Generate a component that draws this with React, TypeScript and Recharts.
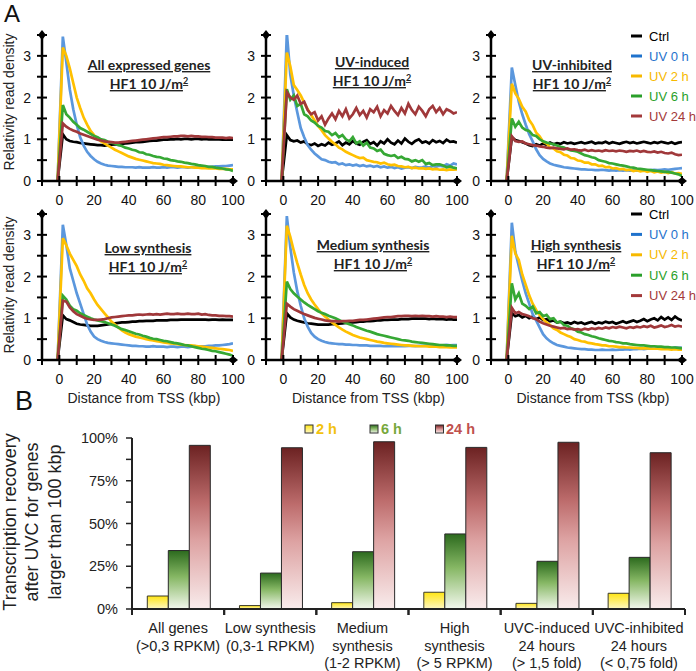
import React from 'react';
import { LineChart, Line, XAxis, YAxis, Legend, BarChart, Bar } from 'recharts';

const SANS = '"Liberation Sans", Arial, Helvetica, sans-serif';
const TITLE_FONT = 'Lato, "Open Sans", sans-serif';

// ---------- Panel A data (distance from TSS, kbp) ----------
const DIST = [-1, 2, 4, 6, 8, 10, 12, 14, 16, 18, 20, 22, 24, 26, 28, 30, 32, 34, 36, 38, 40, 42, 44, 46, 48, 50, 52, 54, 56, 58, 60, 62, 64, 66, 68, 70, 72, 74, 76, 78, 80, 82, 84, 86, 88, 90, 92, 94, 96, 98, 100];

const ALL_CTRL = [0, 1.12, 1.0, 0.96, 0.94, 0.93, 0.91, 0.9, 0.89, 0.88, 0.87,
  0.86, 0.86, 0.85, 0.86, 0.87, 0.88, 0.88, 0.89, 0.9, 0.91,
  0.92, 0.93, 0.93, 0.94, 0.95, 0.96, 0.97, 0.97, 0.98, 0.99,
  0.99, 1.0, 1.0, 1.01, 1.0, 1.01, 1.01, 1.0, 1.01, 1.01,
  1.0, 1.01, 1.0, 1.0, 1.0, 1.0, 0.99, 1.0, 0.99, 0.99];
const ALL_UV0 = [0, 3.46, 2.85, 2.2, 1.72, 1.35, 1.05, 0.85, 0.7, 0.6, 0.52,
  0.46, 0.42, 0.39, 0.37, 0.36, 0.35, 0.34, 0.34, 0.33, 0.33,
  0.33, 0.32, 0.33, 0.32, 0.32, 0.32, 0.33, 0.32, 0.32, 0.33,
  0.32, 0.33, 0.33, 0.32, 0.33, 0.33, 0.32, 0.33, 0.33, 0.33,
  0.34, 0.33, 0.34, 0.34, 0.35, 0.35, 0.36, 0.36, 0.37, 0.38];
const ALL_UV2 = [0, 3.2, 3.0, 2.7, 2.35, 2.0, 1.75, 1.52, 1.35, 1.2, 1.1,
  1.02, 0.95, 0.9, 0.85, 0.8, 0.75, 0.71, 0.67, 0.63, 0.59,
  0.56, 0.53, 0.51, 0.49, 0.47, 0.45, 0.43, 0.42, 0.41, 0.39,
  0.38, 0.37, 0.36, 0.35, 0.35, 0.34, 0.33, 0.33, 0.32, 0.32,
  0.31, 0.31, 0.3, 0.3, 0.3, 0.29, 0.29, 0.29, 0.28, 0.28];
const ALL_UV6 = [0, 1.82, 1.6, 1.52, 1.42, 1.35, 1.27, 1.23, 1.18, 1.13, 1.08,
  1.05, 1.0, 0.98, 0.94, 0.92, 0.9, 0.86, 0.84, 0.8, 0.78,
  0.75, 0.73, 0.69, 0.68, 0.64, 0.63, 0.6, 0.58, 0.57, 0.54,
  0.53, 0.5, 0.49, 0.47, 0.46, 0.44, 0.43, 0.41, 0.4, 0.38,
  0.37, 0.36, 0.34, 0.34, 0.32, 0.31, 0.3, 0.28, 0.27, 0.24];
const ALL_UV24 = [0, 1.38, 1.3, 1.25, 1.21, 1.18, 1.14, 1.11, 1.08, 1.05, 1.02,
  0.99, 0.97, 0.95, 0.94, 0.93, 0.92, 0.92, 0.93, 0.94, 0.95,
  0.96, 0.97, 0.98, 0.99, 1.0, 1.01, 1.02, 1.03, 1.04, 1.05,
  1.05, 1.06, 1.07, 1.07, 1.08, 1.08, 1.07, 1.08, 1.07, 1.07,
  1.06, 1.06, 1.05, 1.05, 1.04, 1.04, 1.04, 1.03, 1.04, 1.03];

const IND_CTRL = [0, 1.1, 0.98, 0.95, 0.97, 0.92, 0.95, 0.88, 0.86, 0.9, 0.84,
  0.88, 0.85, 0.92, 0.87, 0.9, 0.95, 0.86, 0.92, 0.88, 0.96,
  0.9, 0.87, 0.94, 0.98, 0.89, 0.93, 0.85, 0.95, 0.9, 1.0,
  0.92, 0.88, 0.97, 0.9, 1.02, 0.94, 0.89, 0.96, 1.0, 0.92,
  0.95, 0.9, 0.98, 0.93, 0.96, 0.91, 0.99, 0.94, 0.95, 0.92];
const IND_UV0 = [0, 3.55, 2.55, 2.05, 1.65, 1.27, 1.05, 0.86, 0.75, 0.66, 0.59,
  0.52, 0.5, 0.46, 0.44, 0.45, 0.4, 0.42, 0.38, 0.4, 0.37,
  0.39, 0.36, 0.38, 0.35, 0.37, 0.34, 0.36, 0.33, 0.35, 0.32,
  0.34, 0.31, 0.33, 0.3, 0.32, 0.33, 0.31, 0.34, 0.32, 0.33,
  0.35, 0.32, 0.36, 0.34, 0.37, 0.35, 0.4, 0.37, 0.42, 0.4];
const IND_UV2 = [0, 3.08, 2.75, 2.3, 2.18, 2.05, 1.88, 1.72, 1.58, 1.45, 1.32,
  1.22, 1.1, 1.02, 0.94, 0.88, 0.8, 0.76, 0.7, 0.66, 0.62,
  0.58, 0.55, 0.56, 0.5, 0.48, 0.46, 0.45, 0.42, 0.44, 0.4,
  0.38, 0.39, 0.36, 0.35, 0.33, 0.34, 0.31, 0.32, 0.3, 0.31,
  0.29, 0.3, 0.28, 0.29, 0.27, 0.28, 0.26, 0.28, 0.27, 0.28];
const IND_UV6 = [0, 2.2, 1.95, 2.05, 1.8, 1.85, 1.6, 1.55, 1.45, 1.4, 1.32,
  1.28, 1.2, 1.18, 1.1, 1.15, 1.05, 1.1, 1.0, 0.95, 1.05,
  0.9, 0.95, 0.85, 0.92, 0.8, 0.78, 0.72, 0.75, 0.65, 0.62,
  0.6, 0.62, 0.55, 0.58, 0.53, 0.52, 0.47, 0.5, 0.46, 0.5,
  0.41, 0.43, 0.38, 0.4, 0.4, 0.37, 0.33, 0.35, 0.32, 0.3];
const IND_UV24 = [0, 2.13, 2.0, 1.95, 2.05, 1.85, 1.9, 1.7, 1.6, 1.65, 1.45,
  1.55, 1.35, 1.5, 1.62, 1.48, 1.68, 1.55, 1.72, 1.5, 1.6,
  1.75, 1.58, 1.68, 1.52, 1.72, 1.65, 1.78, 1.55, 1.7, 1.62,
  1.8, 1.68, 1.58, 1.75, 1.62, 1.85, 1.7, 1.6, 1.78, 1.68,
  1.55, 1.72, 1.8, 1.65, 1.75, 1.6, 1.72, 1.68, 1.62, 1.65];

const INH_CTRL = [0, 1.05, 0.98, 0.96, 0.93, 0.9, 0.86, 0.84, 0.88, 0.85, 0.9,
  0.87, 0.92, 0.88, 0.91, 0.89, 0.93, 0.9, 0.92, 0.89, 0.91,
  0.93, 0.9, 0.92, 0.94, 0.9, 0.92, 0.91, 0.94, 0.9, 0.93,
  0.91, 0.89, 0.92, 0.94, 0.91, 0.93, 0.9, 0.92, 0.94, 0.92,
  0.9, 0.93, 0.91, 0.94, 0.92, 0.9, 0.93, 0.89, 0.92, 0.93];
const INH_UV0 = [0, 2.72, 2.3, 1.9, 1.6, 1.35, 1.12, 0.95, 0.76, 0.62, 0.53,
  0.47, 0.42, 0.39, 0.37, 0.35, 0.33, 0.32, 0.31, 0.3, 0.29,
  0.28, 0.28, 0.27, 0.27, 0.26, 0.26, 0.27, 0.26, 0.25, 0.26,
  0.25, 0.26, 0.25, 0.26, 0.25, 0.26, 0.25, 0.26, 0.26, 0.25,
  0.26, 0.27, 0.26, 0.27, 0.28, 0.27, 0.28, 0.29, 0.3, 0.31];
const INH_UV2 = [0, 2.33, 2.1, 1.97, 1.78, 1.66, 1.46, 1.34, 1.16, 1.07, 0.94,
  0.9, 0.8, 0.78, 0.71, 0.69, 0.63, 0.61, 0.55, 0.54, 0.49,
  0.48, 0.44, 0.44, 0.4, 0.4, 0.36, 0.37, 0.33, 0.34, 0.3,
  0.31, 0.28, 0.29, 0.26, 0.27, 0.24, 0.26, 0.23, 0.25, 0.22,
  0.24, 0.21, 0.23, 0.2, 0.22, 0.19, 0.21, 0.18, 0.19, 0.17];
const INH_UV6 = [0, 1.5, 1.3, 1.42, 1.28, 1.22, 1.2, 1.1, 1.08, 1.0, 0.95,
  0.92, 0.9, 0.88, 0.85, 0.82, 0.8, 0.76, 0.73, 0.72, 0.7,
  0.66, 0.62, 0.6, 0.57, 0.55, 0.5, 0.48, 0.46, 0.43, 0.42,
  0.4, 0.38, 0.37, 0.35, 0.33, 0.32, 0.3, 0.29, 0.28, 0.27,
  0.26, 0.25, 0.24, 0.23, 0.22, 0.22, 0.2, 0.18, 0.16, 0.12];
const INH_UV24 = [0, 1.07, 0.96, 0.94, 0.95, 0.9, 0.88, 0.86, 0.85, 0.83, 0.82,
  0.8, 0.79, 0.8, 0.78, 0.77, 0.76, 0.78, 0.75, 0.76, 0.74,
  0.73, 0.75, 0.72, 0.74, 0.72, 0.73, 0.71, 0.74, 0.72, 0.73,
  0.71, 0.73, 0.72, 0.7, 0.72, 0.71, 0.73, 0.7, 0.72, 0.7,
  0.69, 0.71, 0.68, 0.7, 0.67, 0.66, 0.68, 0.64, 0.62, 0.63];

const LOW_CTRL = [0, 1.07, 0.98, 0.95, 0.91, 0.87, 0.85, 0.84, 0.83, 0.82, 0.82,
  0.82, 0.83, 0.84, 0.85, 0.87, 0.88, 0.89, 0.9, 0.9, 0.91,
  0.92, 0.92, 0.93, 0.93, 0.94, 0.94, 0.94, 0.95, 0.95, 0.95,
  0.95, 0.96, 0.96, 0.96, 0.97, 0.97, 0.97, 0.97, 0.97, 0.97,
  0.97, 0.97, 0.96, 0.97, 0.97, 0.96, 0.97, 0.96, 0.96, 0.96];
const LOW_UV0 = [0, 3.24, 2.76, 2.2, 1.9, 1.6, 1.35, 1.1, 0.85, 0.68, 0.56,
  0.5, 0.46, 0.43, 0.41, 0.4, 0.39, 0.38, 0.37, 0.36, 0.35,
  0.34, 0.34, 0.33, 0.33, 0.32, 0.32, 0.33, 0.32, 0.32, 0.32,
  0.31, 0.32, 0.32, 0.31, 0.32, 0.32, 0.31, 0.32, 0.33, 0.32,
  0.33, 0.33, 0.34, 0.34, 0.35, 0.35, 0.36, 0.37, 0.38, 0.4];
const LOW_UV2 = [0, 2.92, 2.75, 2.55, 2.4, 2.25, 2.05, 1.9, 1.72, 1.6, 1.45,
  1.32, 1.22, 1.12, 1.02, 0.92, 0.85, 0.78, 0.71, 0.66, 0.62,
  0.59, 0.56, 0.54, 0.52, 0.5, 0.48, 0.47, 0.45, 0.44, 0.42,
  0.41, 0.4, 0.39, 0.38, 0.37, 0.36, 0.35, 0.35, 0.34, 0.33,
  0.32, 0.31, 0.3, 0.29, 0.28, 0.27, 0.26, 0.25, 0.24, 0.22];
const LOW_UV6 = [0, 1.54, 1.45, 1.3, 1.22, 1.18, 1.12, 1.08, 1.04, 1.0, 0.97,
  0.95, 0.93, 0.91, 0.88, 0.85, 0.82, 0.78, 0.74, 0.72, 0.69,
  0.66, 0.63, 0.61, 0.58, 0.56, 0.53, 0.51, 0.5, 0.48, 0.46,
  0.45, 0.43, 0.41, 0.4, 0.38, 0.36, 0.35, 0.33, 0.31, 0.29,
  0.27, 0.26, 0.24, 0.22, 0.21, 0.19, 0.17, 0.15, 0.13, 0.1];
const LOW_UV24 = [0, 1.42, 1.4, 1.26, 1.17, 1.1, 1.06, 1.02, 0.99, 0.97, 0.96,
  0.96, 0.97, 0.98, 1.0, 1.02, 1.03, 1.04, 1.05, 1.06, 1.07,
  1.07, 1.08, 1.09, 1.08, 1.09, 1.1, 1.09, 1.1, 1.09, 1.1,
  1.11, 1.1, 1.1, 1.11, 1.1, 1.1, 1.11, 1.1, 1.1, 1.11,
  1.09, 1.1, 1.08, 1.07, 1.07, 1.06, 1.06, 1.05, 1.05, 1.04];

const MED_CTRL = [0, 1.12, 1.02, 0.97, 0.94, 0.92, 0.9, 0.88, 0.87, 0.86, 0.85,
  0.85, 0.85, 0.85, 0.86, 0.86, 0.87, 0.88, 0.89, 0.9, 0.9,
  0.91, 0.92, 0.92, 0.93, 0.93, 0.94, 0.95, 0.95, 0.96, 0.96,
  0.97, 0.97, 0.97, 0.98, 0.98, 0.98, 0.99, 0.99, 0.99, 0.99,
  0.99, 0.98, 0.99, 0.98, 0.98, 0.98, 0.97, 0.98, 0.97, 0.97];
const MED_UV0 = [0, 3.45, 2.7, 2.1, 1.65, 1.3, 1.0, 0.8, 0.65, 0.56, 0.5,
  0.46, 0.43, 0.41, 0.4, 0.39, 0.38, 0.38, 0.37, 0.37, 0.36,
  0.36, 0.35, 0.35, 0.35, 0.34, 0.34, 0.34, 0.34, 0.33, 0.34,
  0.33, 0.34, 0.33, 0.34, 0.33, 0.34, 0.34, 0.33, 0.34, 0.34,
  0.34, 0.35, 0.34, 0.35, 0.35, 0.35, 0.36, 0.35, 0.36, 0.36];
const MED_UV2 = [0, 3.22, 2.95, 2.62, 2.32, 2.05, 1.8, 1.6, 1.45, 1.33, 1.22,
  1.12, 1.04, 0.97, 0.9, 0.84, 0.78, 0.73, 0.68, 0.64, 0.6,
  0.57, 0.54, 0.52, 0.5, 0.48, 0.46, 0.44, 0.43, 0.41, 0.4,
  0.39, 0.38, 0.37, 0.36, 0.35, 0.35, 0.34, 0.34, 0.33, 0.33,
  0.33, 0.32, 0.32, 0.32, 0.31, 0.31, 0.31, 0.3, 0.3, 0.3];
const MED_UV6 = [0, 1.88, 1.7, 1.6, 1.52, 1.45, 1.38, 1.32, 1.27, 1.22, 1.17,
  1.13, 1.1, 1.06, 1.03, 1.0, 0.96, 0.92, 0.89, 0.86, 0.83,
  0.79, 0.76, 0.73, 0.7, 0.68, 0.65, 0.62, 0.6, 0.58, 0.56,
  0.54, 0.52, 0.5, 0.48, 0.47, 0.46, 0.44, 0.43, 0.42, 0.41,
  0.4, 0.39, 0.38, 0.37, 0.36, 0.36, 0.35, 0.35, 0.34, 0.34];
const MED_UV24 = [0, 1.35, 1.28, 1.22, 1.18, 1.14, 1.1, 1.07, 1.04, 1.01, 0.99,
  0.97, 0.95, 0.94, 0.93, 0.93, 0.92, 0.93, 0.93, 0.94, 0.94,
  0.95, 0.96, 0.96, 0.97, 0.98, 0.99, 1.0, 1.01, 1.02, 1.03,
  1.03, 1.04, 1.05, 1.05, 1.06, 1.06, 1.05, 1.06, 1.05, 1.06,
  1.05, 1.05, 1.04, 1.05, 1.04, 1.04, 1.03, 1.04, 1.03, 1.03];

const HIGH_CTRL = [0, 1.12, 1.05, 1.08, 1.02, 1.06, 1.0, 1.04, 0.98, 1.02, 0.96,
  0.98, 0.93, 0.95, 0.9, 0.92, 0.88, 0.9, 0.87, 0.91, 0.88,
  0.9, 0.86, 0.89, 0.91, 0.87, 0.9, 0.88, 0.92, 0.89, 0.91,
  0.87, 0.9, 0.93, 0.89, 0.92, 0.95, 0.91, 0.94, 0.98, 0.93,
  0.97, 1.0, 0.95, 1.03, 0.97, 1.02, 0.96, 1.04, 0.98, 0.95];
const HIGH_UV0 = [0, 3.29, 2.6, 2.25, 1.9, 1.6, 1.35, 1.1, 0.95, 0.78, 0.62,
  0.52, 0.45, 0.4, 0.36, 0.34, 0.32, 0.3, 0.29, 0.28, 0.27,
  0.26, 0.26, 0.25, 0.25, 0.24, 0.24, 0.25, 0.24, 0.24, 0.25,
  0.24, 0.25, 0.25, 0.26, 0.25, 0.26, 0.26, 0.27, 0.26, 0.27,
  0.28, 0.27, 0.28, 0.29, 0.28, 0.29, 0.28, 0.3, 0.29, 0.3];
const HIGH_UV2 = [0, 2.98, 2.55, 2.4, 2.05, 1.8, 1.55, 1.35, 1.2, 1.08, 0.98,
  0.9, 0.84, 0.76, 0.72, 0.66, 0.62, 0.58, 0.55, 0.5, 0.48,
  0.45, 0.44, 0.41, 0.4, 0.38, 0.37, 0.35, 0.35, 0.33, 0.33,
  0.32, 0.31, 0.31, 0.3, 0.3, 0.29, 0.29, 0.28, 0.28, 0.28,
  0.27, 0.27, 0.27, 0.26, 0.26, 0.26, 0.25, 0.26, 0.25, 0.25];
const HIGH_UV6 = [0, 1.84, 1.45, 1.6, 1.35, 1.3, 1.22, 1.28, 1.12, 1.15, 1.05,
  1.08, 0.98, 1.0, 0.9, 0.92, 0.84, 0.82, 0.76, 0.74, 0.68,
  0.66, 0.62, 0.6, 0.57, 0.55, 0.52, 0.5, 0.48, 0.46, 0.45,
  0.43, 0.42, 0.4, 0.4, 0.38, 0.37, 0.36, 0.35, 0.35, 0.34,
  0.33, 0.33, 0.32, 0.32, 0.31, 0.31, 0.3, 0.3, 0.29, 0.28];
const HIGH_UV24 = [0, 1.25, 1.12, 1.15, 1.1, 1.08, 1.05, 1.0, 0.98, 0.92, 0.88,
  0.85, 0.82, 0.8, 0.78, 0.76, 0.77, 0.74, 0.75, 0.73, 0.74,
  0.72, 0.75, 0.73, 0.76, 0.74, 0.77, 0.75, 0.78, 0.76, 0.79,
  0.77, 0.8, 0.78, 0.76, 0.79, 0.77, 0.8, 0.78, 0.81, 0.79,
  0.82, 0.78, 0.8, 0.83, 0.79, 0.81, 0.84, 0.8, 0.82, 0.8];

const X_TICKS = [-10, 0, 10, 20, 30, 40, 50, 60, 70, 80, 90, 100];
const Y_TICKS = [0, 0.5, 1, 1.5, 2, 2.5, 3, 3.5];

const SERIES = [
  { key: 'ctrl', name: 'Ctrl', color: '#000000', text: '#000000' },
  { key: 'uv0', name: 'UV 0 h', color: '#5b97dd', text: '#1f72cc' },
  { key: 'uv2', name: 'UV 2 h', color: '#ffc000', text: '#f7b900' },
  { key: 'uv6', name: 'UV 6 h', color: '#36a834', text: '#2a9f2a' },
  { key: 'uv24', name: 'UV 24 h', color: '#a0383a', text: '#a3393a' },
];

const PANELS = [
  { title: 'All expressed genes', left: 0, top: 0, mt: 35, s: [ALL_CTRL, ALL_UV0, ALL_UV2, ALL_UV6, ALL_UV24], tx: 149, ty: 70 },
  { title: 'UV-induced', left: 224, top: 0, mt: 35, s: [IND_CTRL, IND_UV0, IND_UV2, IND_UV6, IND_UV24], tx: 372, ty: 67 },
  { title: 'UV-inhibited', left: 449, top: 0, mt: 35, s: [INH_CTRL, INH_UV0, INH_UV2, INH_UV6, INH_UV24], tx: 572, ty: 70, legendTop: 26, legendGap: 20 },
  { title: 'Low synthesis', left: 0, top: 180, mt: 34, s: [LOW_CTRL, LOW_UV0, LOW_UV2, LOW_UV6, LOW_UV24], tx: 148, ty: 253 },
  { title: 'Medium synthesis', left: 224, top: 180, mt: 34, s: [MED_CTRL, MED_UV0, MED_UV2, MED_UV6, MED_UV24], tx: 373, ty: 250 },
  { title: 'High synthesis', left: 449, top: 180, mt: 34, s: [HIGH_CTRL, HIGH_UV0, HIGH_UV2, HIGH_UV6, HIGH_UV24], tx: 576, ty: 250, legendTop: 24, legendGap: 20.4 },
];

// ---------- Panel B data ----------
const CATEGORIES = ['All genes', 'Low synthesis', 'Medium synthesis', 'High synthesis', 'UVC-induced', 'UVC-inhibited'];
const CATEGORY_LINES = [
  ['All genes', '(>0,3 RPKM)'],
  ['Low synthesis', '(0,3-1 RPKM)'],
  ['Medium', 'synthesis', '(1-2 RPKM)'],
  ['High', 'synthesis', '(> 5 RPKM)'],
  ['UVC-induced', '24 hours', '(> 1,5 fold)'],
  ['UVC-inhibited', '24 hours', '(< 0,75 fold)'],
];
const RECOVERY_2H = [7.6, 2.0, 3.7, 9.8, 3.3, 9.2];
const RECOVERY_6H = [34.2, 21.0, 33.5, 43.9, 27.9, 30.2];
const RECOVERY_24H = [95.7, 94.3, 97.8, 94.5, 97.5, 91.4];
const B_TICKS = [0, 12.5, 25, 37.5, 50, 62.5, 75, 87.5, 100];

const PW = 191, PH = 146, YW = 42, XH = 40, MR = 12;
const AXIS_STYLE = { stroke: '#000', strokeWidth: 2.5 };

function ProfilePanel({ p }: any) {
  const H = p.mt + PH + XH;
  const axisY = p.mt + PH;
  const axisX = YW;
  const rows = DIST.map((x, i) => ({
    x,
    ctrl: p.s[0][i],
    uv0: p.s[1][i],
    uv2: p.s[2][i],
    uv6: p.s[3][i],
    uv24: p.s[4][i],
  }));
  const xTick = (props: any) => {
    const { x, payload } = props;
    const v = payload.value;
    return (
      <g>
        <line x1={x} x2={x} y1={axisY - 5} y2={axisY + 5} stroke="#000" strokeWidth={2} />
        {v >= 0 && v % 20 === 0 ? (
          <text x={x} y={axisY + 24} textAnchor="middle" fontSize={14} fontFamily={SANS} fill="#111">{v}</text>
        ) : null}
        {v === 100 ? <path d={`M${x - 5},${axisY} L${x},${axisY - 4} L${x + 5},${axisY} L${x},${axisY + 4} Z`} fill="#000" /> : null}
      </g>
    );
  };
  const yTick = (props: any) => {
    const { y, payload } = props;
    const v = payload.value;
    return (
      <g>
        <line x1={axisX - 5} x2={axisX + 5} y1={y} y2={y} stroke="#000" strokeWidth={2} />
        {Number.isInteger(v) ? (
          <text x={axisX - 11} y={y + 5} textAnchor="end" fontSize={14} fontFamily={SANS} fill="#111">{v}</text>
        ) : null}
        {v === 3.5 ? <path d={`M${axisX},${y - 5} L${axisX + 4},${y} L${axisX},${y + 5} L${axisX - 4},${y} Z`} fill="#000" /> : null}
      </g>
    );
  };
  const legendContent = () => (
    <svg width={66} height={100} style={{ overflow: 'visible', display: 'block' }}>
      {SERIES.map((s, i) => (
        <g key={s.key}>
          <line x1={0} x2={11} y1={10 + i * p.legendGap} y2={10 + i * p.legendGap} stroke={s.text} strokeWidth={3} />
          <text x={18} y={14.5 + i * p.legendGap} fontSize={13} fill={s.text} fontFamily={SANS}>{s.name}</text>
        </g>
      ))}
    </svg>
  );
  return (
    <div style={{ position: 'absolute', left: p.left, top: p.top }}>
      <LineChart width={YW + PW + MR} height={H} data={rows} margin={{ top: p.mt, right: MR, bottom: 0, left: 0 }}>
        <XAxis dataKey="x" type="number" domain={[-10, 100]} ticks={X_TICKS} interval={0} allowDataOverflow height={XH}
          tickLine={false} axisLine={AXIS_STYLE} tick={xTick} />
        <YAxis type="number" domain={[0, 3.5]} ticks={Y_TICKS} interval={0} allowDataOverflow width={YW}
          tickLine={false} axisLine={AXIS_STYLE} tick={yTick} />
        {SERIES.map((s) => (
          <Line key={s.key} dataKey={s.key} name={s.name} type="linear" stroke={s.color} strokeWidth={2.7}
            dot={false} activeDot={false} isAnimationActive={false} />
        ))}
        {p.legendTop !== undefined ? (
          <Legend layout="vertical" align="center" verticalAlign="middle" content={legendContent}
            wrapperStyle={{ left: 182, top: p.legendTop, width: 66, height: 100 }} />
        ) : null}
      </LineChart>
    </div>
  );
}

const B_AXIS_X = 132;
const B_AXIS_Y = 199;
const BAND = 553 / 6;

function RecoveryChart() {
  const rows = CATEGORIES.map((c, i) => ({ cat: c, h2: RECOVERY_2H[i], h6: RECOVERY_6H[i], h24: RECOVERY_24H[i] }));
  const xTick = (props: any) => {
    const { x, payload } = props;
    const idx = CATEGORIES.indexOf(payload.value);
    const lines = CATEGORY_LINES[idx] || [];
    const base = [24, 41.5, 58.5];
    return (
      <g>
        <line x1={x - BAND / 2} x2={x - BAND / 2} y1={B_AXIS_Y} y2={B_AXIS_Y + 6} stroke="#222" strokeWidth={2} />
        <line x1={x + BAND / 2} x2={x + BAND / 2} y1={B_AXIS_Y} y2={B_AXIS_Y + 6} stroke="#222" strokeWidth={2} />
        {lines.map((t: string, k: number) => (
          <text key={k} x={x} y={B_AXIS_Y + base[k]} textAnchor="middle" fontSize={14.5} fontFamily={SANS} fill="#222">{t}</text>
        ))}
      </g>
    );
  };
  const yTick = (props: any) => {
    const { y, payload } = props;
    const v = payload.value;
    return (
      <g>
        <line x1={B_AXIS_X - 6} x2={B_AXIS_X} y1={y} y2={y} stroke="#222" strokeWidth={1.5} />
        {v % 25 === 0 ? (
          <text x={B_AXIS_X - 14} y={y + 5} textAnchor="end" fontSize={14.5} fontFamily={SANS} fill="#222">{`${v}%`}</text>
        ) : null}
      </g>
    );
  };
  const legendContent = () => (
    <svg width={200} height={22} style={{ overflow: 'visible', display: 'block' }}>
      <rect x={5} y={5} width={8} height={8} fill="url(#gradY)" stroke="#333" strokeWidth={1} />
      <text x={16} y={14} fontSize={14.5} fontWeight="bold" fill="#f2c20f" fontFamily={SANS}>2 h</text>
      <rect x={70} y={5} width={8} height={8} fill="url(#gradG)" stroke="#333" strokeWidth={1} />
      <text x={81} y={14} fontSize={14.5} fontWeight="bold" fill="#78a83c" fontFamily={SANS}>6 h</text>
      <rect x={135.5} y={5} width={8} height={8} fill="url(#gradR)" stroke="#333" strokeWidth={1} />
      <text x={146} y={14} fontSize={14.5} fontWeight="bold" fill="#c0504d" fontFamily={SANS}>24 h</text>
    </svg>
  );
  return (
    <div style={{ position: 'absolute', left: 0, top: 410 }}>
      <BarChart width={696} height={261} data={rows} margin={{ top: 28, right: 11, left: 0, bottom: 0 }}
        barCategoryGap="16.6%" barGap={0}>
        <XAxis dataKey="cat" height={62} interval={0} tickLine={false} axisLine={{ stroke: '#222', strokeWidth: 2 }} tick={xTick} />
        <YAxis type="number" domain={[0, 100]} ticks={B_TICKS} interval={0} width={132} tickLine={false}
          axisLine={{ stroke: '#222', strokeWidth: 2 }} tick={yTick} />
        <Bar dataKey="h2" name="2 h" fill="url(#gradY)" stroke="#3a3a2a" strokeWidth={1} isAnimationActive={false} />
        <Bar dataKey="h6" name="6 h" fill="url(#gradG)" stroke="#2a2a2a" strokeWidth={1} isAnimationActive={false} />
        <Bar dataKey="h24" name="24 h" fill="url(#gradR)" stroke="#2a2a2a" strokeWidth={1} isAnimationActive={false} />
        <Legend layout="vertical" align="center" verticalAlign="middle" content={legendContent}
          wrapperStyle={{ left: 300, top: 10, width: 200, height: 22 }} />
      </BarChart>
    </div>
  );
}

function Overlay() {
  return (
    <svg width={696} height={671} style={{ position: 'absolute', left: 0, top: 0, pointerEvents: 'none' }}>
      <text x={4} y={22} fontSize={24} fontFamily={SANS} fill="#111">A</text>
      <text x={15} y={410} fontSize={27} fontFamily={SANS} fill="#111">B</text>
      {[102, 285].map((cy) => (
        <text key={cy} x={13.5} y={cy} transform={`rotate(-90 13.5 ${cy})`} textAnchor="middle" fontSize={14} fontFamily={SANS} fill="#222">
          Relativity read density
        </text>
      ))}
      {[144, 368.5, 593].map((cx) => (
        <text key={cx} x={cx} y={403} textAnchor="middle" fontSize={14} fontFamily={SANS} fill="#222">Distance from TSS (kbp)</text>
      ))}
      {PANELS.map((p) => (
        <g key={p.title} fontFamily={TITLE_FONT} fontWeight={700} fontSize={14} fill="#222">
          <text x={p.tx} y={p.ty} textAnchor="middle" style={{ textDecoration: 'underline' }}>{p.title}</text>
          <text x={p.tx} y={p.ty + 19} textAnchor="middle" style={{ textDecoration: 'underline' }}>
            HF1 10 J/m<tspan dy={-5} fontSize={9}>2</tspan>
          </text>
        </g>
      ))}
      {[
        { t: 'Transcription recovery', bx: 16 },
        { t: 'after UVC for genes', bx: 38 },
        { t: 'larger than 100 kbp', bx: 61 },
      ].map((l) => (
        <text key={l.t} x={l.bx} y={522} transform={`rotate(-90 ${l.bx} 522)`} textAnchor="middle" fontSize={18} fontFamily={SANS} fill="#222">
          {l.t}
        </text>
      ))}
    </svg>
  );
}

export default function App() {
  return (
    <div style={{ position: 'absolute', left: 0, top: 0, width: 696, height: 671, background: '#fff', overflow: 'hidden' }}>
      <svg width={0} height={0} style={{ position: 'absolute' }}>
        <defs>
          <linearGradient id="gradY" x1="0" y1="0" x2="0" y2="1">
            <stop offset="0%" stopColor="#ffe514" />
            <stop offset="100%" stopColor="#fff8c4" />
          </linearGradient>
          <linearGradient id="gradG" x1="0" y1="0" x2="0" y2="1">
            <stop offset="0%" stopColor="#2c6a1e" />
            <stop offset="45%" stopColor="#86b764" />
            <stop offset="100%" stopColor="#f3f8ee" />
          </linearGradient>
          <linearGradient id="gradR" x1="0" y1="0" x2="0" y2="1">
            <stop offset="0%" stopColor="#6c2222" />
            <stop offset="35%" stopColor="#bd6c6c" />
            <stop offset="58%" stopColor="#dda2a2" />
            <stop offset="100%" stopColor="#f9ecec" />
          </linearGradient>
        </defs>
      </svg>
      {PANELS.map((p) => <ProfilePanel key={p.title} p={p} />)}
      <RecoveryChart />
      <Overlay />
    </div>
  );
}
